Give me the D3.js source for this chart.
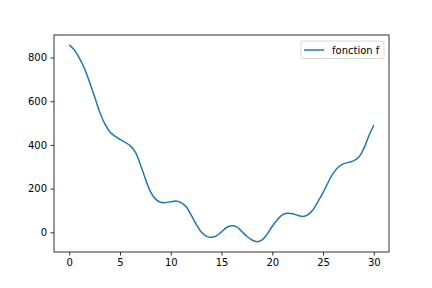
<!DOCTYPE html>
<html lang="fr">
<head>
<meta charset="UTF-8">
<script src="https://d3js.org/d3.v7.min.js"></script>
<style>
  body { margin: 0; background: #fff; }
  text { font-family: "DejaVu Sans", sans-serif; fill: #000; }
</style>
</head>
<body>
<div id="chart"></div>
<script>
// values, every 0.5 on x
const xs = d3.range(0, 30.01, 0.5);
const ys = [858, 835, 797, 750, 688, 620, 551, 497, 460, 440,
            425, 412, 397, 368, 312, 245, 186, 152, 138, 136,
            140, 143, 136, 118, 80, 38, 2, -17, -23, -16,
            2, 22, 30, 25, 4, -18, -35, -43, -35, -8,
            28, 58, 80, 87, 85, 78, 73, 80, 102, 140,
            182, 228, 270, 298, 313, 320, 327, 342, 382, 440,
            490];
const xTicks = [0, 5, 10, 15, 20, 25, 30];
const yTicks = [0, 200, 400, 600, 800];
const seriesName = "fonction f";

const width = 432, height = 288;
const margin = { left: 54, right: 43, top: 35, bottom: 36 };

const svg = d3.select("#chart").append("svg")
    .attr("width", width)
    .attr("height", height);

const x = d3.scaleLinear().domain([-1.5, 31.5]).range([margin.left, width - margin.right]);
const y = d3.scaleLinear().domain([-90, 903]).range([height - margin.bottom, margin.top]);

const data = xs.map((v, i) => ({ x: v, y: ys[i] }));

// the curve
svg.append("path")
    .datum(data)
    .attr("fill", "none")
    .attr("stroke", "#1f77b4")
    .attr("stroke-width", 1.5)
    .attr("d", d3.line().x(d => x(d.x)).y(d => y(d.y)).curve(d3.curveCatmullRom));

// axes
const xAxis = svg.append("g")
    .attr("transform", `translate(0,${height - margin.bottom})`)
    .call(d3.axisBottom(x).tickValues(xTicks).tickSize(3.5).tickPadding(3.5));
const yAxis = svg.append("g")
    .attr("transform", `translate(${margin.left},0)`)
    .call(d3.axisLeft(y).tickValues(yTicks).tickSize(3.5).tickPadding(3.5));
[xAxis, yAxis].forEach(a => {
    a.select(".domain").remove();
    a.selectAll("line").attr("stroke", "#000").attr("stroke-width", 0.8);
    a.selectAll("text").attr("font-size", 10).attr("font-family", "DejaVu Sans, sans-serif").attr("fill", "#000");
});

// frame
svg.append("rect")
    .attr("x", margin.left)
    .attr("y", margin.top)
    .attr("width", width - margin.left - margin.right)
    .attr("height", height - margin.top - margin.bottom)
    .attr("fill", "none")
    .attr("stroke", "#000")
    .attr("stroke-width", 0.8);

// legend
const lg = svg.append("g").attr("transform", "translate(301,41)");
lg.append("rect")
    .attr("width", 83).attr("height", 17.5).attr("rx", 2)
    .attr("fill", "#fff").attr("fill-opacity", 0.8)
    .attr("stroke", "#ccc").attr("stroke-width", 0.8);
lg.append("line")
    .attr("x1", 3).attr("x2", 23).attr("y1", 9).attr("y2", 9)
    .attr("stroke", "#1f77b4").attr("stroke-width", 1.5);
lg.append("text")
    .attr("x", 31).attr("y", 12.5)
    .attr("font-size", 10)
    .text(seriesName);
</script>
</body>
</html>
